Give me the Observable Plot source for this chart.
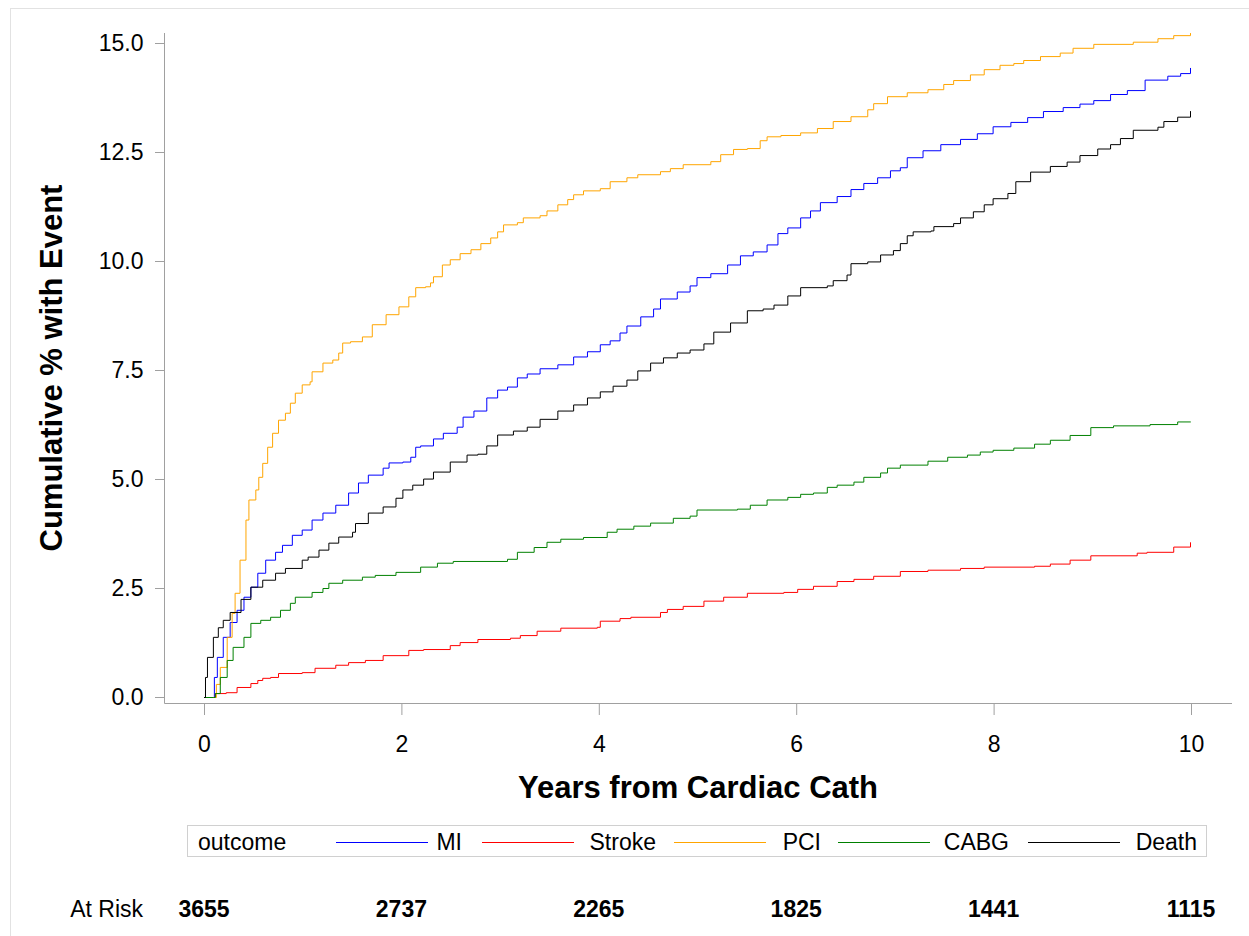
<!DOCTYPE html>
<html>
<head>
<meta charset="utf-8">
<script src="https://cdn.jsdelivr.net/npm/d3@7"></script>
<script src="https://cdn.jsdelivr.net/npm/@observablehq/plot@0.6"></script>
<style>
  html, body { margin: 0; padding: 0; background: #fff; }
  body { font-family: "Liberation Sans", Arial, sans-serif; color: #000; }
  #wrap { position: relative; width: 1249px; height: 936px; overflow: hidden; }
  #border { position: absolute; left: 10px; top: 8px; right: -2px; bottom: -2px; border-left: 1px solid #e2e2e2; border-top: 1px solid #e2e2e2; }
  #chart { position: absolute; left: 0; top: 0; }
  #legend { position: absolute; left: 187px; top: 825px; width: 1020px; height: 32px; border: 1px solid #d0d0d0; box-sizing: border-box; }
  .lg { position: absolute; top: 0; line-height: 32px; font-size: 23px; white-space: nowrap; }
  .ln { position: absolute; top: 16px; height: 0; border-top: 1px solid; }
  #risk { position: absolute; left: 0; top: 892px; width: 1249px; height: 34px; }
  .rk { position: absolute; top: 0; line-height: 34px; font-size: 23px; white-space: nowrap; }
</style>
</head>
<body>
<div id="wrap">
  <div id="border"></div>
  <div id="chart"></div>
  <div id="legend"></div>
  <div id="risk"></div>
</div>
<script>
// ---- data ----
const outcomes = ["MI", "Stroke", "PCI", "CABG", "Death"];
const colors = ["#0000ff", "#ff0000", "#ffa500", "#008000", "#000000"];
const xTicks = [0, 2, 4, 6, 8, 10];
const yTicks = [0, 2.5, 5, 7.5, 10, 12.5, 15];
const atRiskYears = [0, 2, 4, 6, 8, 10];
const atRisk = [3655, 2737, 2265, 1825, 1441, 1115];

// [years, cumulative %]
const mi = [[0,0],[0.09,0],[0.1,0.46],[0.13,0.92],[0.19,1.38],[0.26,1.72],[0.33,2.0],[0.40,2.30],[0.47,2.53],[0.54,2.85],[0.62,3.15],[0.72,3.33],[0.79,3.49],[0.89,3.72],[0.99,3.84],[1.09,4.07],[1.20,4.23],[1.33,4.41],[1.46,4.69],[1.56,4.92],[1.66,5.10],[1.81,5.26],[1.87,5.38],[2.01,5.40],[2.09,5.51],[2.14,5.74],[2.19,5.77],[2.32,5.93],[2.42,6.06],[2.56,6.20],[2.62,6.43],[2.73,6.57],[2.86,6.87],[2.97,7.05],[3.07,7.12],[3.17,7.33],[3.27,7.42],[3.40,7.54],[3.58,7.63],[3.74,7.81],[3.88,7.93],[4.01,8.09],[4.11,8.18],[4.21,8.36],[4.28,8.52],[4.42,8.73],[4.55,8.91],[4.62,9.14],[4.79,9.30],[4.92,9.44],[4.99,9.63],[5.13,9.72],[5.30,9.92],[5.43,10.13],[5.56,10.22],[5.70,10.38],[5.81,10.64],[5.91,10.77],[6.04,11.0],[6.14,11.16],[6.24,11.35],[6.41,11.49],[6.55,11.65],[6.68,11.79],[6.82,11.92],[6.95,12.08],[7.05,12.15],[7.12,12.38],[7.28,12.54],[7.46,12.68],[7.66,12.80],[7.83,12.93],[7.99,13.09],[8.17,13.19],[8.34,13.30],[8.50,13.44],[8.70,13.53],[8.87,13.61],[9.01,13.69],[9.18,13.83],[9.35,13.92],[9.53,14.16],[9.76,14.25],[9.89,14.31],[9.99,14.43]];
const stroke = [[0,0],[0.09,0],[0.11,0.09],[0.22,0.11],[0.33,0.23],[0.47,0.32],[0.54,0.39],[0.59,0.44],[0.67,0.46],[0.75,0.55],[0.99,0.57],[1.12,0.67],[1.33,0.74],[1.46,0.80],[1.63,0.85],[1.81,0.96],[2.07,1.08],[2.22,1.10],[2.49,1.19],[2.59,1.26],[2.77,1.33],[3.10,1.36],[3.20,1.42],[3.37,1.52],[3.61,1.59],[3.98,1.61],[4.01,1.75],[4.21,1.81],[4.32,1.84],[4.62,1.95],[4.69,2.02],[4.85,2.09],[5.06,2.21],[5.26,2.30],[5.50,2.39],[5.87,2.41],[6.01,2.48],[6.17,2.55],[6.41,2.66],[6.58,2.71],[6.78,2.78],[7.05,2.89],[7.33,2.92],[7.66,2.96],[7.90,2.99],[8.41,3.01],[8.57,3.06],[8.77,3.15],[8.98,3.25],[9.45,3.31],[9.55,3.33],[9.82,3.45],[9.99,3.55]];
const pci = [[0,0],[0.09,0],[0.12,0.3],[0.16,0.69],[0.23,1.38],[0.28,1.93],[0.31,2.39],[0.36,3.15],[0.42,4.07],[0.45,4.53],[0.52,4.76],[0.55,5.05],[0.59,5.37],[0.64,5.74],[0.69,6.06],[0.75,6.36],[0.82,6.52],[0.87,6.75],[0.92,6.98],[0.99,7.17],[1.07,7.24],[1.09,7.47],[1.20,7.67],[1.30,7.74],[1.36,7.90],[1.40,8.13],[1.48,8.16],[1.60,8.27],[1.70,8.55],[1.84,8.78],[1.97,8.96],[2.07,9.19],[2.14,9.40],[2.24,9.42],[2.29,9.51],[2.32,9.65],[2.41,9.92],[2.49,10.04],[2.59,10.18],[2.70,10.27],[2.80,10.41],[2.90,10.54],[2.97,10.68],[3.03,10.84],[3.17,10.89],[3.23,11.0],[3.40,11.05],[3.47,11.16],[3.58,11.30],[3.68,11.42],[3.74,11.53],[3.84,11.62],[4.01,11.67],[4.11,11.83],[4.28,11.92],[4.39,11.99],[4.62,12.06],[4.72,12.13],[4.85,12.22],[5.13,12.29],[5.23,12.45],[5.36,12.57],[5.50,12.59],[5.63,12.77],[5.70,12.86],[5.84,12.89],[6.04,12.95],[6.21,13.05],[6.37,13.21],[6.55,13.32],[6.72,13.48],[6.78,13.62],[6.92,13.78],[7.12,13.87],[7.33,13.94],[7.49,14.06],[7.59,14.15],[7.76,14.28],[7.90,14.40],[8.06,14.50],[8.20,14.54],[8.30,14.61],[8.47,14.70],[8.67,14.78],[8.80,14.89],[9.01,14.98],[9.41,15.03],[9.66,15.11],[9.82,15.18],[9.99,15.23]];
const cabg = [[0,0],[0.09,0],[0.11,0.09],[0.16,0.46],[0.23,0.85],[0.29,1.15],[0.40,1.38],[0.47,1.70],[0.57,1.77],[0.67,1.84],[0.77,2.0],[0.87,2.16],[0.92,2.30],[1.09,2.41],[1.20,2.50],[1.26,2.62],[1.40,2.69],[1.60,2.76],[1.73,2.80],[1.94,2.87],[2.19,2.99],[2.36,3.08],[2.52,3.12],[3.07,3.17],[3.17,3.33],[3.34,3.44],[3.47,3.56],[3.61,3.63],[3.84,3.67],[4.08,3.79],[4.18,3.86],[4.35,3.93],[4.52,4.0],[4.75,4.11],[4.92,4.16],[4.99,4.30],[5.40,4.32],[5.53,4.41],[5.70,4.53],[5.91,4.59],[6.04,4.66],[6.17,4.69],[6.31,4.82],[6.41,4.87],[6.58,4.94],[6.68,5.05],[6.85,5.15],[6.92,5.26],[7.05,5.33],[7.33,5.42],[7.53,5.51],[7.73,5.56],[7.86,5.63],[7.99,5.67],[8.20,5.72],[8.41,5.81],[8.57,5.90],[8.77,6.01],[8.98,6.19],[9.21,6.23],[9.58,6.26],[9.86,6.32],[9.99,6.32]];
const death = [[0,0],[0.01,0.46],[0.03,0.92],[0.09,1.38],[0.14,1.6],[0.19,1.77],[0.26,1.95],[0.37,2.25],[0.47,2.53],[0.59,2.69],[0.72,2.85],[0.82,2.96],[0.99,3.15],[1.05,3.22],[1.16,3.38],[1.26,3.54],[1.36,3.68],[1.50,3.79],[1.53,3.99],[1.66,4.23],[1.81,4.37],[1.94,4.57],[2.01,4.76],[2.11,4.87],[2.22,5.01],[2.32,5.17],[2.49,5.40],[2.66,5.56],[2.77,5.58],[2.86,5.77],[2.97,6.02],[3.13,6.11],[3.27,6.20],[3.40,6.38],[3.58,6.57],[3.74,6.71],[3.88,6.87],[4.01,7.01],[4.14,7.14],[4.28,7.28],[4.39,7.49],[4.52,7.67],[4.65,7.79],[4.79,7.90],[4.92,7.97],[5.06,8.11],[5.16,8.38],[5.33,8.59],[5.50,8.87],[5.66,8.91],[5.77,9.0],[5.91,9.21],[6.04,9.40],[6.31,9.44],[6.37,9.56],[6.51,9.69],[6.55,9.95],[6.72,9.99],[6.85,10.15],[6.98,10.25],[7.05,10.41],[7.12,10.59],[7.18,10.68],[7.36,10.70],[7.39,10.80],[7.59,10.87],[7.66,11.0],[7.79,11.14],[7.90,11.30],[7.99,11.44],[8.14,11.56],[8.22,11.83],[8.37,12.05],[8.57,12.18],[8.74,12.28],[8.87,12.43],[9.05,12.58],[9.18,12.68],[9.28,12.82],[9.41,13.01],[9.66,13.08],[9.72,13.21],[9.86,13.31],[9.99,13.44]];

// ---- build table ----
const seriesData = {MI: mi, Stroke: stroke, PCI: pci, CABG: cabg, Death: death};
const rows = [];
for (const name of outcomes) for (const [t, pct] of seriesData[name]) rows.push({outcome: name, t, pct});

const W = 1249, H = 810;
const M = {left: 164, top: 33, right: 17, bottom: 107};
const axisGray = "#a0a0a0";

const plot = Plot.plot({
  width: W, height: H,
  marginLeft: M.left, marginTop: M.top, marginRight: M.right, marginBottom: M.bottom,
  style: {fontFamily: "'Liberation Sans', Arial, sans-serif", fontSize: "23px", color: "#000", background: "transparent", overflow: "visible"},
  x: {domain: [0, 10], insetLeft: 40, insetRight: 41},
  y: {domain: [0, 15], insetTop: 10, insetBottom: 6},
  color: {domain: outcomes, range: colors},
  marks: [
    Plot.axisY({ticks: yTicks, tickFormat: d3.format(".1f"), tickSize: 9, tickPadding: 12, stroke: axisGray, fontSize: 23, label: null}),
    Plot.axisX({ticks: xTicks, tickFormat: d3.format("d"), tickSize: 12, tickPadding: 20, stroke: axisGray, fontSize: 23, label: null}),
    Plot.line(rows, {x: "t", y: "pct", z: "outcome", stroke: "outcome", curve: "step-after", strokeWidth: 1})
  ]
});
document.getElementById("chart").appendChild(plot);

// axis lines (left & bottom frame) and titles
const svg = d3.select(plot);
const x0 = M.left + 0.5, yb = H - M.bottom + 0.5;
svg.append("line").attr("x1", x0).attr("x2", x0).attr("y1", M.top).attr("y2", yb).attr("stroke", axisGray);
svg.append("line").attr("x1", x0).attr("x2", W - M.right).attr("y1", yb).attr("y2", yb).attr("stroke", axisGray);
svg.append("text").text("Cumulative % with Event")
  .attr("transform", `translate(51,${(M.top + H - M.bottom) / 2}) rotate(-90)`)
  .attr("text-anchor", "middle").attr("dominant-baseline", "central")
  .attr("font-weight", "bold").attr("font-size", 31).attr("fill", "#000");
svg.append("text").text("Years from Cardiac Cath")
  .attr("x", (M.left + W - M.right) / 2).attr("y", 787)
  .attr("text-anchor", "middle").attr("dominant-baseline", "central")
  .attr("font-weight", "bold").attr("font-size", 31).attr("fill", "#000");

// legend
const legend = document.getElementById("legend");
const mk = (cls, left, txt) => { const d = document.createElement("div"); d.className = cls; d.style.left = left + "px"; if (txt) d.textContent = txt; legend.appendChild(d); return d; };
mk("lg", 10, "outcome");
const lineLefts = [148, 294, 486, 650, 840];
const textRights = [274, 468, 633, 821, 1009];
outcomes.forEach((name, i) => {
  const l = mk("ln", lineLefts[i]);
  l.style.width = "92px";
  l.style.borderTopColor = colors[i];
  const t = mk("lg", 0, name);
  t.style.left = "auto";
  t.style.right = (1020 - 2 - textRights[i]) + "px";
});

// at risk row
const xs = plot.scale("x");
const risk = document.getElementById("risk");
const lab = document.createElement("div");
lab.className = "rk"; lab.textContent = "At Risk"; lab.style.right = (W - 143) + "px";
risk.appendChild(lab);
atRiskYears.forEach((yr, i) => {
  const d = document.createElement("div");
  d.className = "rk"; d.style.fontWeight = "bold";
  d.textContent = atRisk[i];
  d.style.left = xs.apply(yr) + "px";
  d.style.transform = "translateX(-50%)";
  risk.appendChild(d);
});
</script>
</body>
</html>
